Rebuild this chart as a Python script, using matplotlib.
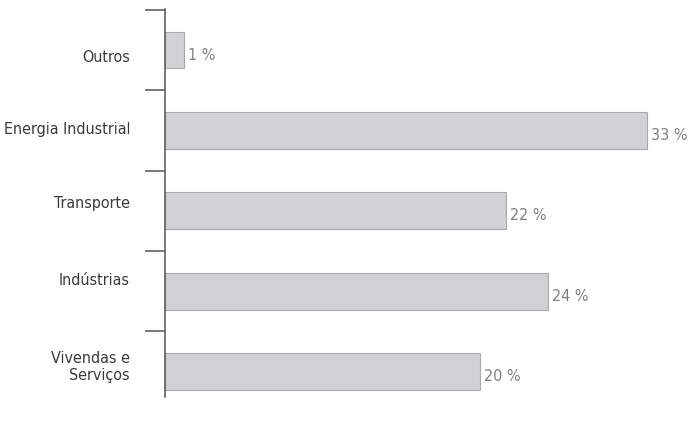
import matplotlib.pyplot as plt
import numpy as np

categories = ["Outros", "Energia Industrial", "Transporte", "Indústrias", "Vivendas e\nServiços"]
bar_lengths = [1.2, 31.1, 22.0, 24.7, 20.3]
value_labels = ["1 %", "33 %", "22 %", "24 %", "20 %"]

# small vertical nudges of the category labels, as in the original layout
label_nudge = [0.075, -0.02, -0.105, -0.14, -0.07]

fig = plt.figure(figsize=(6.89, 4.27), dpi=100)
ax = fig.add_axes([165 / 689, 1 - 398 / 427, 524 / 689, 388 / 427])

y = np.arange(len(categories))
ax.barh(y, bar_lengths, height=0.46, color="#d1d2d4", edgecolor="#a9a9a9", linewidth=0.8)

ax.set_xlim(0, 33.8)
ax.set_ylim(4.316, -0.51)

for s in ["top", "right", "bottom"]:
    ax.spines[s].set_visible(False)
ax.spines["left"].set_color("#555555")
ax.spines["left"].set_linewidth(1.1)
ax.set_xticks([])
ax.set_yticks(np.arange(-0.5, len(categories) - 1, 1.0))
ax.set_yticklabels([])
ax.tick_params(axis="y", length=14.5, width=1.1, color="#555555", direction="out")

font = dict(family="DejaVu Sans", fontstretch="condensed", fontsize=11.5)
for i, name in enumerate(categories):
    ax.text(-35 / 524 * 33.8, i + label_nudge[i], name, ha="right", va="center",
            color="#3a3a3a", linespacing=1.15, **font)

for i, (v, lab) in enumerate(zip(bar_lengths, value_labels)):
    ax.annotate(lab, (v, i + 0.05), xytext=(3, 0), textcoords="offset points",
                ha="left", va="center", color="#808080", **font)

fig.savefig("out.png", dpi=100)
